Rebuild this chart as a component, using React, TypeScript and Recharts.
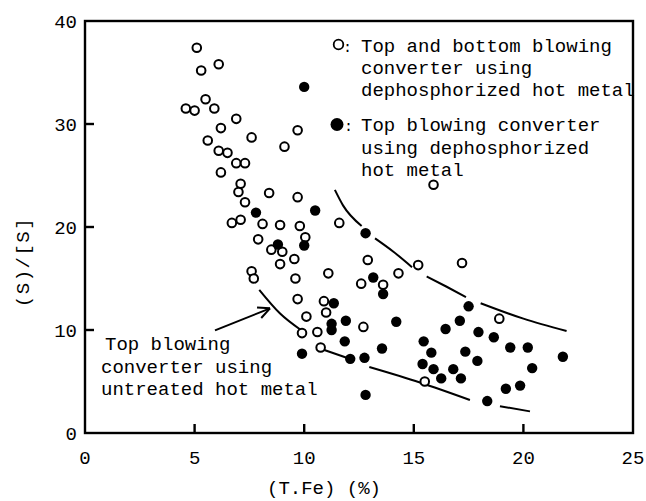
import React from 'react';
import { ComposedChart, XAxis, YAxis, Scatter, Line } from 'recharts';

// ---------- data ----------
const xTicks = [0, 5, 10, 15, 20, 25];
const yTicks = [0, 10, 20, 30, 40];
const xMax = 25;
const yMax = 40;

// Top and bottom blowing converter using dephosphorized hot metal (open circles)
const topBottomBlowing: [number, number][] = [
  [5.1, 37.4], [5.3, 35.2], [6.1, 35.8], [5.5, 32.4], [4.6, 31.5], [5.0, 31.3],
  [5.9, 31.5], [6.9, 30.5], [6.2, 29.6], [7.6, 28.7], [9.7, 29.4], [5.6, 28.4],
  [9.1, 27.8], [6.1, 27.4], [6.5, 27.2], [6.9, 26.2], [7.3, 26.2], [6.2, 25.3],
  [7.1, 24.2], [7.0, 23.4], [8.4, 23.3], [9.7, 22.9], [7.3, 22.4], [6.7, 20.4],
  [7.1, 20.7], [8.1, 20.3], [8.9, 20.2], [9.8, 20.1], [7.9, 18.8], [8.5, 17.8],
  [9.0, 17.6], [10.05, 19.0], [9.55, 16.9], [8.9, 16.4], [7.6, 15.7], [7.7, 15.0],
  [9.6, 15.0], [9.7, 13.0], [10.1, 11.3], [9.9, 9.7], [11.6, 20.4], [15.9, 24.1],
  [15.2, 16.3], [12.9, 16.8], [11.1, 15.5], [14.3, 15.5], [12.6, 14.5], [13.6, 14.4],
  [10.9, 12.8], [11.0, 11.7], [12.7, 10.3], [10.6, 9.8], [10.75, 8.3], [15.5, 5.0],
  [17.2, 16.5], [18.9, 11.1],
];

// Top blowing converter using dephosphorized hot metal (filled circles)
const topBlowing: [number, number][] = [
  [10.0, 33.6], [7.8, 21.4], [10.5, 21.6], [8.8, 18.3], [10.0, 18.2], [9.9, 7.7],
  [12.8, 19.4], [13.15, 15.1], [13.6, 13.5], [11.35, 12.6], [11.25, 10.6], [11.25, 10.0],
  [11.9, 10.9], [11.85, 8.9], [14.2, 10.8], [13.55, 8.2], [12.1, 7.2], [12.75, 7.3],
  [12.8, 3.7], [17.5, 12.3], [17.1, 10.9], [16.45, 10.1], [17.95, 9.8], [18.65, 9.3],
  [19.4, 8.3], [20.2, 8.3], [21.8, 7.4], [15.45, 8.9], [15.8, 7.8], [17.35, 7.9],
  [17.9, 7.0], [15.4, 6.7], [15.9, 6.2], [16.8, 6.2], [16.25, 5.3], [17.15, 5.3],
  [20.4, 6.3], [19.2, 4.3], [19.85, 4.6], [18.35, 3.1],
];

// Upper boundary curve (dashed), each sub-array one dash
const upperCurve: [number, number][][] = [
  [[11.4, 23.6], [11.77, 22.1], [12.62, 20.1]],
  [[13.23, 18.9], [14.07, 17.6], [14.92, 16.1]],
  [[15.59, 15.2], [16.5, 14.2], [17.38, 13.2]],
  [[18.05, 12.6], [20.0, 11.1], [21.97, 9.9]],
];

// Lower boundary curve: top blowing converter using untreated hot metal
const lowerCurve: [number, number][][] = [
  [[7.95, 13.9], [8.9, 11.6], [9.85, 10.0]],
  [[10.72, 8.2], [11.94, 7.3]],
  [[12.97, 6.4], [15.28, 4.9], [17.56, 3.2]],
  [[18.93, 2.6], [20.3, 2.1]],
];

// Annotation arrow (from label toward the curve)
const arrowLine: [number, number][] = [[5.93, 9.96], [8.44, 12.1]];

const legendOpen = ['Top and bottom blowing', 'converter using', 'dephosphorized hot metal'];
const legendFilled = ['Top blowing converter', 'using dephosphorized', 'hot metal'];
const annotation = ['Top blowing', 'converter using', 'untreated hot metal'];
const xLabel = '(T.Fe)  (%)';
const yLabel = '(S)/[S]';

// ---------- layout ----------
const W = 646, H = 501;
const MARGIN = { top: 21, right: 13, left: 0, bottom: 0 };
const Y_AXIS_W = 85, X_AXIS_H = 68;
const PL = MARGIN.left + Y_AXIS_W;
const PT = MARGIN.top;
const PR = W - MARGIN.right;
const PB = H - MARGIN.bottom - X_AXIS_H;
const TICK_LEN = 9;

const FONT = '"Liberation Mono", "DejaVu Sans Mono", monospace';
const toPts = (a: [number, number][]) => a.map(([x, y]) => ({ x, y }));

const OpenDot = (p: any) => (
  <circle cx={p.cx} cy={p.cy} r={4.3} fill="#fff" stroke="#000" strokeWidth={2} />
);
const FilledDot = (p: any) => <circle cx={p.cx} cy={p.cy} r={5.2} fill="#000" />;

const XTick = (p: any) => (
  <text x={p.x} y={PB + 31} textAnchor="middle" fontFamily={FONT} fontSize={19} fill="#000">
    {p.payload.value}
  </text>
);

const YTick = (p: any) => (
  <text x={PL - 8} y={p.y + 7} textAnchor="end" fontFamily={FONT} fontSize={19} fill="#000">
    {p.payload.value}
  </text>
);

const ArrowHead = (p: any) => {
  if (p.index !== 1) return <g key={`ah${p.index}`} />;
  const pts = p.points;
  let ang = -22 * Math.PI / 180;
  if (pts && pts.length > 1) ang = Math.atan2(pts[1].y - pts[0].y, pts[1].x - pts[0].x);
  const L = 13, spread = 0.45;
  const a1 = ang + Math.PI - spread, a2 = ang + Math.PI + spread;
  return (
    <g key="ah1">
      <line x1={p.cx} y1={p.cy} x2={p.cx + L * Math.cos(a1)} y2={p.cy + L * Math.sin(a1)} stroke="#000" strokeWidth={2} />
      <line x1={p.cx} y1={p.cy} x2={p.cx + L * Math.cos(a2)} y2={p.cy + L * Math.sin(a2)} stroke="#000" strokeWidth={2} />
    </g>
  );
};

const txt = { fontFamily: FONT, fontSize: 19, fill: '#000' } as const;

export default function App() {
  const segs = [...upperCurve, ...lowerCurve];
  const sx = (v: number) => PL + (v / xMax) * (PR - PL);
  const sy = (v: number) => PB - (v / yMax) * (PB - PT);
  return (
    <div style={{ position: 'absolute', left: 0, top: 0, width: W, height: H, background: '#fff' }}>
      <ComposedChart width={W} height={H} margin={MARGIN}>
        <XAxis
          type="number"
          dataKey="x"
          domain={[0, xMax]}
          ticks={xTicks}
          allowDataOverflow
          height={X_AXIS_H}
          tickSize={0}
          tickMargin={10}
          tickLine={false}
          tick={<XTick />}
          axisLine={false}
          interval={0}
        />
        <YAxis
          type="number"
          dataKey="y"
          domain={[0, yMax]}
          ticks={yTicks}
          allowDataOverflow
          width={Y_AXIS_W}
          tickSize={0}
          tickMargin={10}
          tickLine={false}
          tick={<YTick />}
          axisLine={false}
          interval={0}
        />
        {segs.map((s, i) => (
          <Line
            key={`seg${i}`}
            data={toPts(s)}
            dataKey="y"
            type="monotone"
            stroke="#000"
            strokeWidth={2}
            dot={false}
            activeDot={false}
            isAnimationActive={false}
          />
        ))}
        <Line
          data={toPts(arrowLine)}
          dataKey="y"
          type="linear"
          stroke="#000"
          strokeWidth={2}
          dot={<ArrowHead />}
          activeDot={false}
          isAnimationActive={false}
        />
        <Scatter data={toPts(topBottomBlowing)} dataKey="y" shape={<OpenDot />} isAnimationActive={false} />
        <Scatter data={toPts(topBlowing)} dataKey="y" shape={<FilledDot />} isAnimationActive={false} />
      </ComposedChart>
      <svg width={W} height={H} style={{ position: 'absolute', left: 0, top: 0, pointerEvents: 'none' }}>
        {/* full frame around the plot area */}
        <rect x={PL} y={PT} width={PR - PL} height={PB - PT} fill="none" stroke="#000" strokeWidth={2.4} />
        {/* inward tick marks */}
        {xTicks.slice(1, -1).map((t) => (
          <rect key={`xt${t}`} x={sx(t) - 1.2} y={PB - TICK_LEN} width={2.4} height={TICK_LEN} fill="#000" />
        ))}
        {yTicks.slice(1, -1).map((t) => (
          <rect key={`yt${t}`} x={PL} y={sy(t) - 1.2} width={TICK_LEN} height={2.4} fill="#000" />
        ))}
        {/* legend */}
        <circle cx={338.5} cy={44.5} r={4.8} fill="#fff" stroke="#000" strokeWidth={1.8} />
        <text x={343} y={52} {...txt} fontSize={15}>:</text>
        {legendOpen.map((t, i) => (
          <text key={`lo${i}`} x={361} y={52 + i * 22} {...txt}>{t}</text>
        ))}
        <circle cx={337} cy={124.5} r={6.5} fill="#000" />
        <text x={344} y={131} {...txt} fontSize={15}>:</text>
        {legendFilled.map((t, i) => (
          <text key={`lf${i}`} x={361} y={131 + i * 22.5} {...txt}>{t}</text>
        ))}
        {annotation.map((t, i) => (
          <text key={`an${i}`} x={i === 0 ? 105 : 101} y={350 + i * 22.5} {...txt}>{t}</text>
        ))}
        <text x={267} y={494} {...txt}>{xLabel}</text>
        <text x={0} y={0} {...txt} letterSpacing={1.5} textAnchor="middle" transform="translate(29 262) rotate(-90)">{yLabel}</text>
      </svg>
    </div>
  );
}
